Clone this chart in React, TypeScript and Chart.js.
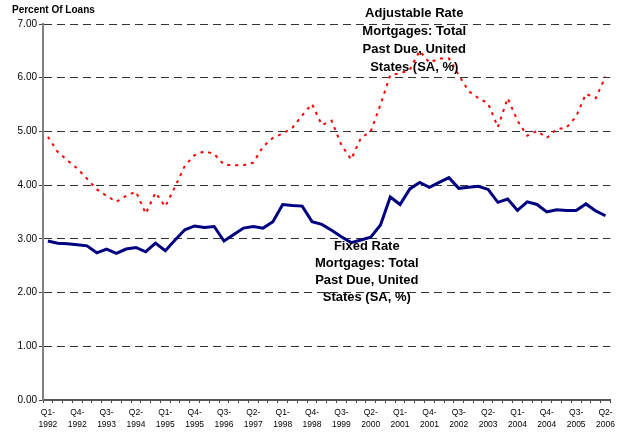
import React, { useEffect, useRef } from "react";
import { Chart, registerables } from "chart.js";

Chart.register(...registerables);

const quarters: string[] = [
  "Q1-1992", "Q2-1992", "Q3-1992", "Q4-1992",
  "Q1-1993", "Q2-1993", "Q3-1993", "Q4-1993",
  "Q1-1994", "Q2-1994", "Q3-1994", "Q4-1994",
  "Q1-1995", "Q2-1995", "Q3-1995", "Q4-1995",
  "Q1-1996", "Q2-1996", "Q3-1996", "Q4-1996",
  "Q1-1997", "Q2-1997", "Q3-1997", "Q4-1997",
  "Q1-1998", "Q2-1998", "Q3-1998", "Q4-1998",
  "Q1-1999", "Q2-1999", "Q3-1999", "Q4-1999",
  "Q1-2000", "Q2-2000", "Q3-2000", "Q4-2000",
  "Q1-2001", "Q2-2001", "Q3-2001", "Q4-2001",
  "Q1-2002", "Q2-2002", "Q3-2002", "Q4-2002",
  "Q1-2003", "Q2-2003", "Q3-2003", "Q4-2003",
  "Q1-2004", "Q2-2004", "Q3-2004", "Q4-2004",
  "Q1-2005", "Q2-2005", "Q3-2005", "Q4-2005",
  "Q1-2006", "Q2-2006",
];

const adjustableRate: number[] = [
  4.90, 4.62, 4.46, 4.31, 4.12, 3.92, 3.80, 3.69, 3.80, 3.88,
  3.47, 3.86, 3.60, 3.97, 4.36, 4.56, 4.63, 4.58, 4.38, 4.37,
  4.37, 4.42, 4.72, 4.88, 4.96, 5.07, 5.30, 5.51, 5.12, 5.20,
  4.75, 4.48, 4.88, 5.00, 5.50, 6.05, 6.08, 6.15, 6.50, 6.28,
  6.36, 6.36, 6.05, 5.75, 5.62, 5.52, 5.08, 5.62, 5.20, 4.92,
  5.01, 4.88, 5.04, 5.07, 5.28, 5.70, 5.62, 6.02,
];

const fixedRate: number[] = [
  2.96, 2.92, 2.91, 2.89, 2.87, 2.74, 2.81, 2.73, 2.81, 2.84,
  2.76, 2.92, 2.78, 2.98, 3.17, 3.24, 3.21, 3.23, 2.96, 3.08,
  3.20, 3.23, 3.20, 3.32, 3.64, 3.62, 3.61, 3.32, 3.27, 3.16,
  3.04, 2.93, 2.98, 3.03, 3.26, 3.78, 3.64, 3.93, 4.05, 3.96,
  4.05, 4.14, 3.94, 3.96, 3.98, 3.92, 3.68, 3.74, 3.53, 3.69,
  3.64, 3.50, 3.54, 3.53, 3.53, 3.65, 3.52, 3.43,
];

const yTickValues: number[] = [0, 1, 2, 3, 4, 5, 6, 7];

const armLabelLines: string[] = ["Adjustable Rate", "Mortgages: Total", "Past Due, United", "States (SA, %)"];
const frmLabelLines: string[] = ["Fixed Rate", "Mortgages: Total", "Past Due, United", "States (SA, %)"];
const yAxisTitle = "Percent Of Loans";

const FONT = '"Liberation Sans", Arial, Helvetica, sans-serif';

const textPlugin = {
  id: "textLabels",
  afterDatasetsDraw(chart: any) {
    const { ctx, scales } = chart;
    const xs = scales.x;
    const ys = scales.y;
    ctx.save();
    ctx.fillStyle = "#000";
    ctx.textBaseline = "middle";

    ctx.font = `bold 10px ${FONT}`;
    ctx.textAlign = "left";
    ctx.fillText(yAxisTitle, 12, 10.5);

    ctx.font = `bold 13px ${FONT}`;
    ctx.textAlign = "center";
    const ax = xs.getPixelForValue(37.45);
    const ay = ys.getPixelForValue(7.2);
    armLabelLines.forEach((t, i) => ctx.fillText(t, ax, ay + i * 18));

    const fx = xs.getPixelForValue(32.6);
    const fy = ys.getPixelForValue(2.85);
    frmLabelLines.forEach((t, i) => ctx.fillText(t, fx, fy + i * 17));
    ctx.restore();
  },
};

export default function App() {
  const ref = useRef<HTMLCanvasElement | null>(null);

  useEffect(() => {
    if (!ref.current) return;
    const chart = new Chart(ref.current, {
      type: "line",
      data: {
        labels: quarters,
        datasets: [
          {
            label: "Adjustable Rate Mortgages: Total Past Due, United States (SA, %)",
            data: adjustableRate,
            borderColor: "#FF0000",
            borderWidth: 2,
            borderDash: [3, 5],
            pointRadius: 0,
            tension: 0,
            fill: false,
          },
          {
            label: "Fixed Rate Mortgages: Total Past Due, United States (SA, %)",
            data: fixedRate,
            borderColor: "#000080",
            borderWidth: 3,
            pointRadius: 0,
            tension: 0,
            fill: false,
          },
        ],
      },
      options: {
        animation: false,
        responsive: false,
        maintainAspectRatio: false,
        layout: { padding: { left: 0, right: 6, top: 24, bottom: 0 } },
        plugins: {
          legend: { display: false },
          title: { display: false },
          tooltip: { enabled: false },
        },
        scales: {
          x: {
            type: "category",
            offset: true,
            grid: {
              offset: true,
              drawOnChartArea: false,
              drawTicks: true,
              tickLength: 3,
              tickColor: "#444",
              tickWidth: 1,
            },
            border: { display: true, color: "#555", width: 2 },
            ticks: {
              autoSkip: false,
              maxRotation: 0,
              minRotation: 0,
              padding: 4,
              color: "#000",
              font: { family: FONT, size: 8.5, lineHeight: 1.4 },
              callback: (_v: any, i: number) => {
                if (i % 3 !== 0) return "";
                const q = quarters[i];
                const [a, b] = q.split("-");
                return [a + "-", b];
              },
            },
            afterFit: (s: any) => {
              s.height = 32;
            },
          },
          y: {
            min: 0,
            max: 7,
            afterBuildTicks: (s: any) => {
              s.ticks = yTickValues.map((v) => ({ value: v }));
            },
            ticks: {
              stepSize: 1,
              padding: 2,
              color: "#000",
              font: { family: FONT, size: 10 },
              callback: (v: any) => Number(v).toFixed(2),
            },
            grid: {
              color: (c: any) => (c.tick && c.tick.value === 0 ? "rgba(0,0,0,0)" : "#333"),
              lineWidth: 1,
              drawTicks: true,
              tickLength: 4,
              tickColor: "#444",
              tickWidth: 1,
            },
            border: { display: true, color: "#808080", width: 2, dash: [8, 5] },
            afterFit: (s: any) => {
              s.width = 43;
            },
          },
        },
      },
      plugins: [textPlugin],
    });
    return () => chart.destroy();
  }, []);

  return (
    <div style={{ position: "fixed", left: 0, top: 0, width: 619, height: 432, background: "#fff" }}>
      <canvas ref={ref} width={619} height={432} style={{ width: 619, height: 432, display: "block" }} />
    </div>
  );
}
